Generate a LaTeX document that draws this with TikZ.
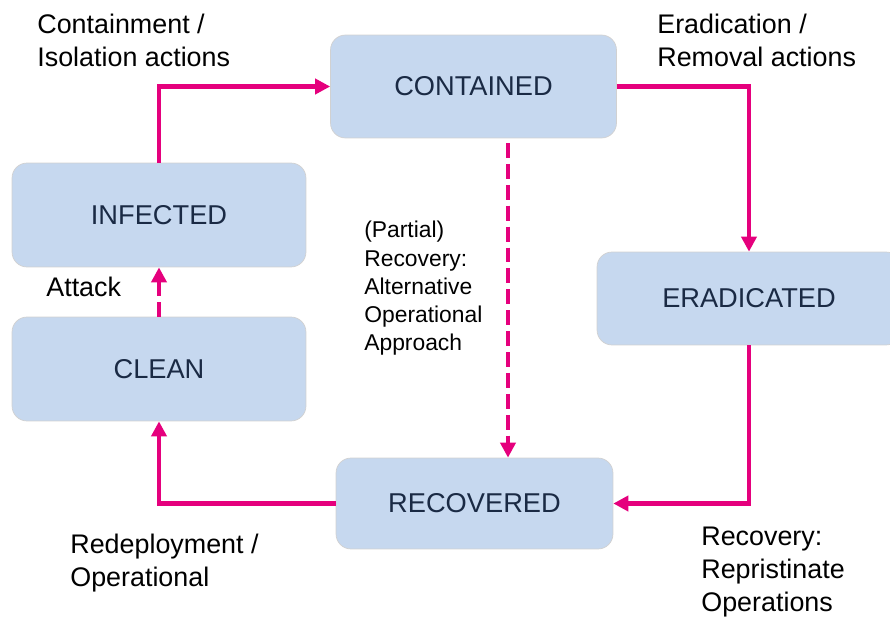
\documentclass[tikz,border=0pt]{standalone}
\usepackage{fontspec}
\setmainfont{Liberation Sans}
\usetikzlibrary{arrows.meta}
\definecolor{boxblue}{HTML}{C6D8EF}
\definecolor{boxtext}{HTML}{1A2A44}
\definecolor{pathpink}{HTML}{E5007D}
\begin{document}
\begin{tikzpicture}[x=0.02cm,y=-0.02cm,
  state/.style={draw=black!18,line width=0.4pt,fill=boxblue,rounded corners=0.3cm,
    text=boxtext,font=\fontsize{15.5}{18}\selectfont,inner sep=0pt},
  flow/.style={pathpink,line width=2.3pt,-{Triangle[length=8.5pt,width=8.5pt]}},
  dflow/.style={flow,dash pattern=on 8.5pt off 3.4pt},
  lbl/.style={anchor=north west,align=left,inner sep=0pt,font=\fontsize{15.3}{18.7}\selectfont}]
  \useasboundingbox (0,0) rectangle (890,616);

  % 状態
  \node [state,minimum width=5.72cm,minimum height=2.06cm] (contained)  at (473.5,86.5) {CONTAINED};
  \node [state,minimum width=5.88cm,minimum height=2.08cm] (infected)   at (159,215)    {INFECTED};
  \node [state,minimum width=5.88cm,minimum height=2.08cm] (clean)      at (159,369)    {CLEAN};
  \node [state,minimum width=6.08cm,minimum height=1.86cm] (eradicated) at (749,298.5)  {ERADICATED};
  \node [state,minimum width=5.54cm,minimum height=1.82cm] (recovered)  at (474.5,503.5) {RECOVERED};

  % 遷移
  \draw [flow] (infected.north) |- (contained.west);
  \draw [flow] (contained.east) -| (eradicated.north);
  \draw [flow] (eradicated.south) |- (recovered.east);
  \draw [flow] (recovered.west) -| (clean.south);
  \draw [dflow] (clean.north) -- (infected.south);
  \coordinate (dtop) at (508,143);
  \draw [dflow] (dtop) -- (dtop |- recovered.north);

  % ラベル
  \node [lbl] (lcontain) at (37,14)   {Containment /\\Isolation actions};
  \node [lbl] (leradic)  at (657,14)  {Eradication /\\Removal actions};
  \node [lbl] (lattack)  at (46,277)  {Attack};
  \node [lbl,font=\fontsize{13}{16}\selectfont] (lpartial) at (364,221)
    {(Partial)\\Recovery:\\Alternative\\Operational\\Approach};
  \node [lbl] (lredeploy) at (70,534)  {Redeployment /\\Operational};
  \node [lbl] (lrecover)  at (701,527) {Recovery:\\Repristinate\\Operations};
\end{tikzpicture}
\end{document}
